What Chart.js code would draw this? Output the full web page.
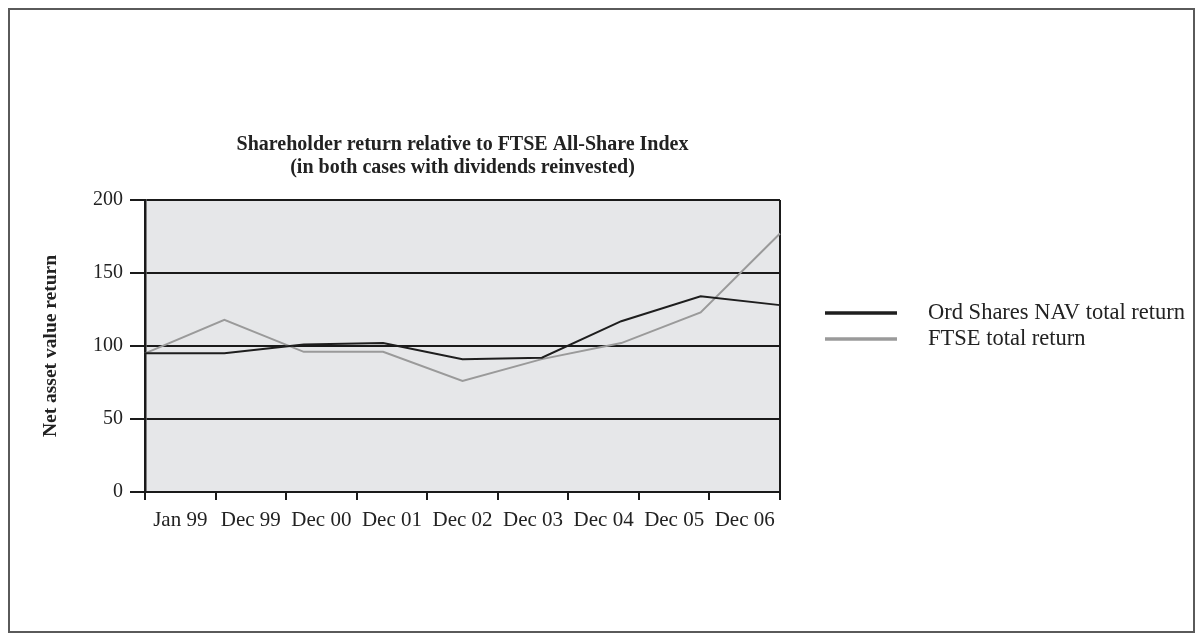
<!DOCTYPE html>
<html>
<head>
<meta charset="utf-8">
<title>Shareholder return relative to FTSE All-Share Index</title>
<script src="https://cdn.jsdelivr.net/npm/chart.js@4.4.0/dist/chart.umd.min.js"></script>
<style>
    html, body { margin: 0; padding: 0; background: #fff; }
    #wrap { width: 1202px; height: 639px; }
</style>
</head>
<body>
<div id="wrap"><canvas id="chart" width="1202" height="639"></canvas></div>
<script>
// Data
const categories = ['Jan 99', 'Dec 99', 'Dec 00', 'Dec 01', 'Dec 02', 'Dec 03', 'Dec 04', 'Dec 05', 'Dec 06'];
const navReturn = [95, 95, 101, 102, 91, 92, 117, 134, 128];
const ftseReturn = [95, 118, 96, 96, 76, 91, 102, 123, 177];
const yTicks = [0, 50, 100, 150, 200];
const seriesNames = ['Ord Shares NAV total return', 'FTSE total return'];

const serif = "'Liberation Serif', 'DejaVu Serif', serif";
const textColor = '#222';

// Gray plot background, plot frame and the outer page border
const framePlugin = {
    id: 'frame',
    beforeDraw(chart) {
        const { ctx, chartArea: a } = chart;
        ctx.save();
        ctx.fillStyle = '#e6e7e9';
        ctx.fillRect(a.left, a.top, a.right - a.left, a.bottom - a.top);
        ctx.strokeStyle = '#5a5a5a';
        ctx.lineWidth = 2;
        ctx.strokeRect(9, 9, chart.width - 17, chart.height - 16);
        ctx.restore();
    },
    beforeDatasetsDraw(chart) {
        const { ctx, chartArea: a } = chart;
        ctx.save();
        ctx.strokeStyle = '#1a1a1a';
        ctx.lineWidth = 2;
        ctx.beginPath();
        ctx.moveTo(a.right, a.top);
        ctx.lineTo(a.right, a.bottom);
        ctx.stroke();
        ctx.restore();
    }
};

// Legend to the right of the plot
const sideLegend = {
    id: 'sideLegend',
    afterDraw(chart) {
        const { ctx } = chart;
        ctx.save();
        chart.data.datasets.forEach((ds, i) => {
            const y = 313 + i * 26;
            ctx.strokeStyle = ds.borderColor;
            ctx.lineWidth = 3.5;
            ctx.beginPath();
            ctx.moveTo(825, y);
            ctx.lineTo(897, y);
            ctx.stroke();
            ctx.fillStyle = textColor;
            ctx.font = '22.5px ' + serif;
            ctx.textBaseline = 'middle';
            ctx.textAlign = 'left';
            ctx.fillText(ds.label, 928, y);
        });
        ctx.restore();
    }
};

new Chart(document.getElementById('chart'), {
    type: 'line',
    data: {
        labels: categories,
        datasets: [{
            label: seriesNames[0],
            data: navReturn,
            xAxisID: 'xd',
            borderColor: '#1e1e1e',
            borderWidth: 2,
            pointRadius: 0,
            tension: 0
        }, {
            label: seriesNames[1],
            data: ftseReturn,
            xAxisID: 'xd',
            borderColor: '#9a9a9a',
            borderWidth: 2,
            pointRadius: 0,
            tension: 0
        }]
    },
    options: {
        responsive: false,
        animation: false,
        layout: { padding: { top: 100, right: 422, bottom: 97, left: 0 } },
        scales: {
            x: {
                type: 'category',
                offset: true,
                grid: {
                    offset: true,
                    drawOnChartArea: false,
                    drawTicks: true,
                    tickLength: 8,
                    lineWidth: 2,
                    color: '#1a1a1a'
                },
                border: { display: true, color: '#1a1a1a', width: 2 },
                ticks: {
                    color: textColor,
                    padding: 8,
                    maxRotation: 0,
                    autoSkip: false,
                    font: { family: serif, size: 21 }
                },
                afterFit(scale) { scale.height = 50; }
            },
            // data axis: points run edge to edge of the plot
            xd: {
                type: 'category',
                offset: false,
                display: false
            },
            y: {
                min: 0,
                max: 200,
                afterBuildTicks(scale) {
                    scale.ticks = yTicks.map(v => ({ value: v }));
                },
                grid: {
                    color: '#1a1a1a',
                    lineWidth: 2,
                    drawTicks: true,
                    tickLength: 15
                },
                border: { display: true, color: '#1a1a1a', width: 2.5 },
                ticks: {
                    color: textColor,
                    padding: 7,
                    font: { family: serif, size: 20 }
                },
                title: {
                    display: true,
                    text: 'Net asset value return',
                    color: textColor,
                    padding: { top: 39, bottom: 0 },
                    font: { family: serif, size: 19.5, weight: 'bold' }
                },
                afterFit(scale) { scale.width = 145; }
            }
        },
        plugins: {
            legend: { display: false },
            tooltip: { enabled: false },
            title: {
                display: true,
                fullSize: false,
                text: ['Shareholder return relative to FTSE All-Share Index', '(in both cases with dividends reinvested)'],
                color: textColor,
                padding: { top: 33, bottom: 21 },
                font: { family: serif, size: 20, weight: 'bold', lineHeight: 1.15 }
            }
        }
    },
    plugins: [framePlugin, sideLegend]
});
</script>
</body>
</html>
